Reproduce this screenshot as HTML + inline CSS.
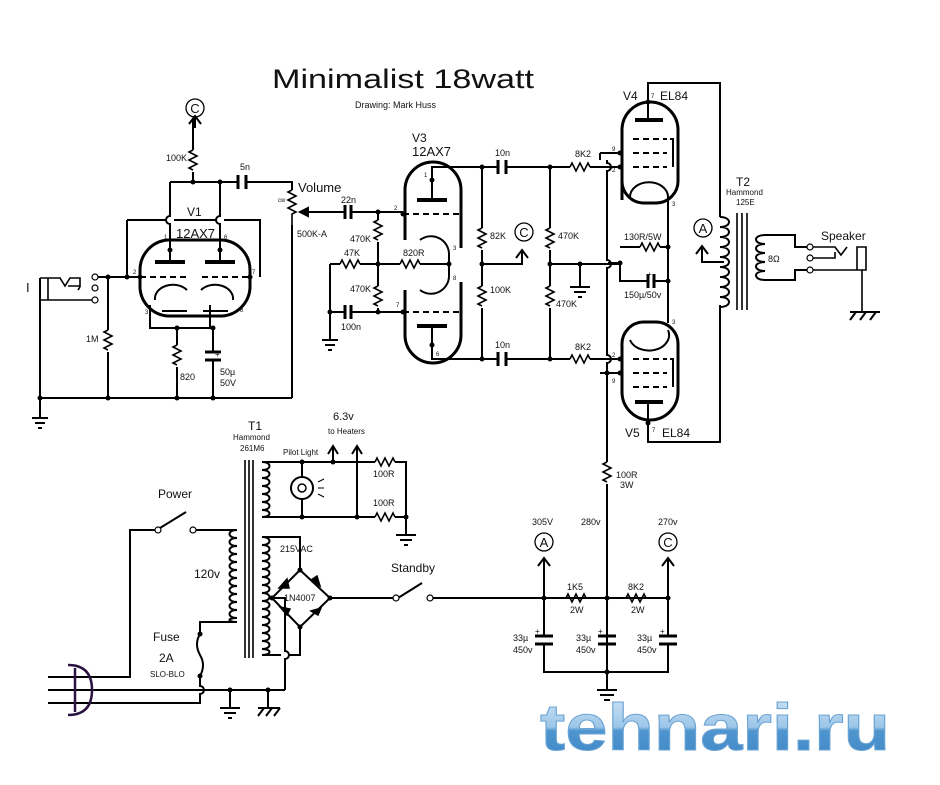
<!DOCTYPE html>
<html><head><meta charset="utf-8"><style>
html,body{margin:0;padding:0;background:#fff;}
svg{display:block;}
text{font-family:"Liberation Sans",sans-serif;fill:#111;}
</style></head><body>
<svg width="940" height="785" viewBox="0 0 940 785" xmlns="http://www.w3.org/2000/svg">
<defs>
<path id="rh" d="M0,0 l2,-4 l4,8 l4,-8 l4,8 l4,-8 l2,4" fill="none" stroke="#000" stroke-width="1.6"/>
<path id="rv" d="M0,0 l-4,2 l8,4 l-8,4 l8,4 l-8,4 l4,2" fill="none" stroke="#000" stroke-width="1.6"/>
<linearGradient id="wm" x1="0" y1="0" x2="0" y2="1"><stop offset="0" stop-color="#d7e9f7"/><stop offset="0.5" stop-color="#9cc6e8"/><stop offset="0.55" stop-color="#4f95cf"/><stop offset="1" stop-color="#3d86c6"/></linearGradient>
</defs>
<g fill="none" stroke="#000" stroke-width="2">
<path d="M193,118 V150 M193,172 V182 M170,182 H238 M246,182 H292 V190"/>
<path d="M238,175 V189 M246,175 V189" stroke-width="3"/>
<path d="M170,182 V216 a4,4 0 0 0 0,8 V243 M220,182 V216 a4,4 0 0 0 0,8 V243"/>
<path d="M127,220 H166 M174,220 H216 M224,220 H260 V277 M127,220 V277"/>
<path d="M168,240 H222 A30,30 0 0 1 250,270 V288 A30,30 0 0 1 222,316 H168 A30,30 0 0 1 140,288 V270 A30,30 0 0 1 168,240 Z" stroke-width="3"/>
<path d="M155,262 H185 M205,262 H235" stroke-width="4"/>
<path d="M140,277 H188 M202,277 H250" stroke-dasharray="6,4"/>
<path d="M155,300 a18,14 0 0 1 32,-10 M233,300 a18,14 0 0 0 -32,-10"/>
<path d="M162,311 H187 M203,311 H228"/>
<path d="M170,243 V262 M220,243 V262"/>
<path d="M95,277 H140 M150,305 V328 H210 V305 M177,328 V345 M177,367 V398 M213,328 V352 M213,360 V398"/>
<path d="M205,352 H221 M205,360 H221" stroke-width="3"/>
<path d="M108,277 V330 M108,352 V398 M38,398 H292 M292,225 V398"/>
<path d="M40,278 V398 M40,398 V418"/>
<path d="M32,418 H48 M35,423 H45 M38,428 H42"/>
<path d="M40,278 H48 V300 H40 M48,278 H60 l5,8 l5,-8 H80 V287 M80,287 l-2,3 M68,286 L80,286 M40,300 H95" stroke-width="1.6"/>
<path d="M300,212 H345 M351,212 H403 M378,212 V220 M378,242 V286 M378,308 V312 M330,264 H340 M360,264 H400 M420,264 H449 M330,264 V340 M330,312 H345 M351,312 H403"/>
<path d="M345,205 V219 M351,205 V219 M345,305 V319 M351,305 V319" stroke-width="3"/>
<path d="M322,340 H338 M325,345 H335 M328,350 H332"/>
<path d="M300,212 l8,-4 v8 z" fill="#000"/>
<path d="M405,208 V190 A28,28 0 0 1 461,190 V248 M405,240 V192 M405,290 V335 A28,28 0 0 0 461,335 V282" stroke-width="3"/>
<path d="M417,200 H447 M417,326 H447" stroke-width="4"/>
<path d="M403,214 H461 M403,312 H461" stroke-dasharray="6,4"/>
<path d="M420,240 a18,18 0 0 1 29,15 V275 a18,18 0 0 1 -29,15"/>
<path d="M432,200 V167 H498 M506,167 H570 M590,167 H603 M432,326 V359 H498 M506,359 H570 M590,359 H603"/>
<path d="M498,160 V174 M506,160 V174 M498,352 V366 M506,352 V366" stroke-width="3"/>
<path d="M482,167 V228 M482,250 V286 M482,308 V359 M482,264 H522 V252 M516,258 L522,250 L528,258"/>
<path d="M550,167 V228 M550,250 V286 M550,308 V359 M550,264 H603 M580,264 V287 M570,287 H590 M574,292 H586 M578,297 H582"/>
<path d="M607,160 V163 a4,4 0 0 1 0,8 V260 a4,4 0 0 1 0,8 V355 a4,4 0 0 1 0,8 V462 M607,484 V680"/>
<path d="M603,167 H620 M603,264 H620 M603,359 H620 M600,153 H620 M600,373 H620 M600,153 L600,160"/>
<path d="M622,200 V130 A28,28 0 0 1 678,130 V180 A22,22 0 0 1 656,203 H644 A22,22 0 0 1 622,180" stroke-width="3"/>
<path d="M635,120 H663" stroke-width="4"/>
<path d="M633,139 H667 M633,153 H667 M633,167 H667" stroke-dasharray="6,4"/>
<path d="M670,139 H673 V167"/>
<path d="M630,197 a18,14 0 0 1 38,0"/>
<path d="M648,102 V83 H720 V217 M648,102 V120"/>
<path d="M668,197 V323 M620,263 V281 H648 M654,281 H668 M620,247 H640 M660,247 H668 M620,263 H608"/>
<path d="M648,274 V288 M654,274 V288" stroke-width="3"/>
<path d="M622,345 V392 A28,28 0 0 0 678,392 V345 A22,22 0 0 0 656,322 H644 A22,22 0 0 0 622,345" stroke-width="3"/>
<path d="M635,402 H663" stroke-width="4"/>
<path d="M633,359 H667 M633,373 H667 M633,387 H667" stroke-dasharray="6,4"/>
<path d="M670,359 H673 V387"/>
<path d="M630,340 a18,14 0 0 0 38,-10"/>
<path d="M648,402 V442 H720 V305"/>
<path d="M720,217 c12,0 12,10 0,10 c12,0 12,10 0,10 c12,0 12,10 0,10 c12,0 12,10 0,10 c12,0 12,10 0,10 c12,0 12,10 0,10 c12,0 12,10 0,10 c12,0 12,10 0,10 c12,0 12,10 0,10"/>
<path d="M737,213 V310 M742,213 V310 M747,213 V310" stroke-width="1.6"/>
<path d="M765,235 c-12,0 -12,9 0,9 c-12,0 -12,9 0,9 c-12,0 -12,9 0,9 c-12,0 -12,9 0,9 c-12,0 -12,9 0,9 M765,235 H795 V247 H808 M765,280 H795 V270 H808"/>
<path d="M724,262 H702 V248 M696,254 L702,246 L708,254"/>
<path d="M812,247 H835 l6,8 l6,-8 M812,258 H835 V252 M812,270 H857 M857,247 H866 V270 H857 Z M862,270 V312" stroke-width="1.6"/>
<path d="M850,312 H880 M850,320 l6,-8 M860,320 l6,-8 M870,320 l6,-8"/>
<path d="M245,460 V658 M249,460 V658 M253,460 V658" stroke-width="1.6"/>
<path d="M262,462 c10,0 10,8 0,8 c10,0 10,8 0,8 c10,0 10,8 0,8 c10,0 10,8 0,8 c10,0 10,8 0,8 c10,0 10,8 0,8 c10,0 10,7 0,7"/>
<path d="M262,462 H375 M395,462 H406 V517 M262,517 H375 M395,517 H406 V535 M302,462 V477 M302,499 V517 M357,462 V517 M333,462 V448 M328,454 L333,446 L338,454 M357,462 V448 M352,454 L357,446 L362,454"/>
<path d="M396,535 H416 M400,540 H412 M404,545 H408"/>
<path d="M237,530 c-10,0 -10,8 0,8 c-10,0 -10,8 0,8 c-10,0 -10,8 0,8 c-10,0 -10,8 0,8 c-10,0 -10,8 0,8 c-10,0 -10,8 0,8 c-10,0 -10,8 0,8 c-10,0 -10,8 0,8 c-10,0 -10,8 0,8 c-10,0 -10,8 0,8 c-10,0 -10,8 0,8 c-10,0 -10,4 0,4"/>
<path d="M262,537 c10,0 10,8 0,8 c10,0 10,8 0,8 c10,0 10,8 0,8 c10,0 10,8 0,8 c10,0 10,8 0,8 c10,0 10,8 0,8 c10,0 10,8 0,8 c10,0 10,8 0,8 c10,0 10,8 0,8 c10,0 10,8 0,8 c10,0 10,8 0,8 c10,0 10,8 0,8 c10,0 10,8 0,8 c10,0 10,8 0,8 c10,0 10,6 0,6"/>
<path d="M237,530 H196 M158,530 H130 V677 H48 M160,528 L186,512 M237,622 H200 V634 q-6,10 0,21 q6,10 0,21 V686 a4,4 0 0 1 0,8 V703 H48 M48,690 H285 M230,690 V708 M268,690 V708"/>
<path d="M220,708 H240 M224,713 H236 M228,718 H232 M258,708 H280 M258,716 l6,-8 M266,716 l6,-8 M274,716 l6,-8"/>
<path d="M262,537 H300 V570 M300,570 L330,598 L300,627 L272,598 L300,570 M272,598 H285 V651 a4,4 0 0 1 0,8 V690 M262,655 H281 M289,655 H300 V627 M330,598 H394 M430,598 H668 M398,598 L422,583"/>
<path d="M68,665 q24,0 24,25 q0,25 -24,25 M75,668 V712" stroke="#2a1340" stroke-width="2.5"/>
<path d="M544,598 V560 M538,566 L544,558 L550,566 M668,598 V560 M662,566 L668,558 L674,566 M544,598 V636 M544,644 V672 H668 V644 M668,636 V598 M607,598 V636 M607,644 V690"/>
<path d="M535,636 H553 M535,644 H553 M598,636 H616 M598,644 H616 M659,636 H677 M659,644 H677" stroke-width="3"/>
<path d="M597,690 H617 M600,695 H614 M604,700 H610"/>
<path d="M544,598 H566 M588,598 H626 M648,598 H668"/>
</g>
<use href="#rv" x="193" y="150"/><use href="#rv" x="108" y="330"/><use href="#rv" x="177" y="345"/>
<use href="#rv" x="378" y="220"/><use href="#rv" x="378" y="286"/>
<use href="#rv" x="482" y="228"/><use href="#rv" x="482" y="286"/>
<use href="#rv" x="550" y="228"/><use href="#rv" x="550" y="286"/>
<use href="#rv" x="607" y="462"/>
<use href="#rh" x="340" y="264"/><use href="#rh" x="400" y="264"/>
<use href="#rh" x="570" y="167"/><use href="#rh" x="570" y="359"/>
<use href="#rh" x="640" y="247"/><use href="#rh" x="375" y="462"/><use href="#rh" x="375" y="517"/>
<use href="#rh" x="566" y="598"/><use href="#rh" x="626" y="598"/>
<path d="M292,190 l-4,2 l8,4 l-8,4 l8,4 l-8,4 l8,4 l-4,2 V225" fill="none" stroke="#000" stroke-width="1.6"/>
<g fill="#000" stroke="#000" stroke-width="1.5">
<path d="M279,588 l8,-9 l2,9 z M320,586 l-9,-6 l6,-4 z M280,607 l10,2 l-3,6 z M321,608 l-3,7 l-7,-4 z"/>
</g>
<circle cx="302" cy="488" r="11" fill="none" stroke="#000" stroke-width="2"/>
<circle cx="302" cy="488" r="4" fill="none" stroke="#000" stroke-width="1.5"/>
<path d="M318,482 l6,-3 M318,488 h6 M318,494 l6,3" stroke="#000" stroke-width="1"/>
<g fill="#000">
<circle cx="193" cy="182" r="2.5"/><circle cx="220" cy="182" r="2.5"/><circle cx="108" cy="277" r="2.5"/><circle cx="127" cy="277" r="2.5"/>
<circle cx="140" cy="277" r="2.5"/><circle cx="250" cy="277" r="2.5"/><circle cx="170" cy="250" r="2.5"/><circle cx="220" cy="250" r="2.5"/>
<circle cx="177" cy="328" r="2.5"/><circle cx="213" cy="328" r="2.5"/><circle cx="40" cy="398" r="2.5"/><circle cx="108" cy="398" r="2.5"/><circle cx="177" cy="398" r="2.5"/><circle cx="213" cy="398" r="2.5"/>
<circle cx="378" cy="212" r="2.5"/><circle cx="378" cy="264" r="2.5"/><circle cx="378" cy="312" r="2.5"/><circle cx="330" cy="312" r="2.5"/><circle cx="403" cy="214" r="2.5"/><circle cx="403" cy="312" r="2.5"/>
<circle cx="449" cy="264" r="2.5"/><circle cx="432" cy="180" r="2.5"/><circle cx="432" cy="345" r="2.5"/>
<circle cx="482" cy="167" r="2.5"/><circle cx="482" cy="264" r="2.5"/><circle cx="482" cy="359" r="2.5"/><circle cx="550" cy="167" r="2.5"/><circle cx="550" cy="264" r="2.5"/><circle cx="550" cy="359" r="2.5"/><circle cx="580" cy="264" r="2.5"/>
<circle cx="620" cy="153" r="2.5"/><circle cx="620" cy="167" r="2.5"/><circle cx="620" cy="359" r="2.5"/><circle cx="620" cy="373" r="2.5"/><circle cx="607" cy="373" r="2.5"/><circle cx="620" cy="263" r="2.5"/>
<circle cx="648" cy="102" r="2.5"/><circle cx="648" cy="423" r="2.5"/><circle cx="668" cy="247" r="2.5"/><circle cx="668" cy="281" r="2.5"/>
<circle cx="302" cy="462" r="2.5"/><circle cx="302" cy="517" r="2.5"/><circle cx="333" cy="462" r="2.5"/><circle cx="357" cy="517" r="2.5"/><circle cx="406" cy="517" r="2.5"/>
<circle cx="200" cy="634" r="2.5"/><circle cx="200" cy="676" r="2.5"/><circle cx="230" cy="690" r="2.5"/><circle cx="268" cy="690" r="2.5"/>
<circle cx="300" cy="570" r="2.5"/><circle cx="300" cy="627" r="2.5"/><circle cx="272" cy="598" r="2.5"/><circle cx="330" cy="598" r="2.5"/>
<circle cx="544" cy="598" r="2.5"/><circle cx="607" cy="598" r="2.5"/><circle cx="668" cy="598" r="2.5"/><circle cx="607" cy="672" r="2.5"/>
</g>
<g fill="#fff" stroke="#000" stroke-width="1.2">
<circle cx="95" cy="277" r="3"/><circle cx="95" cy="288" r="3"/><circle cx="95" cy="300" r="3"/>
<circle cx="158" cy="530" r="3"/><circle cx="193" cy="530" r="3"/><circle cx="396" cy="598" r="3"/><circle cx="430" cy="598" r="3"/>
<circle cx="810" cy="247" r="3"/><circle cx="810" cy="258" r="3"/><circle cx="810" cy="270" r="3"/>
</g>
<g fill="none" stroke="#000" stroke-width="1.3">
<circle cx="195" cy="108" r="9"/><circle cx="524" cy="232" r="9"/><circle cx="703" cy="228" r="9"/><circle cx="544" cy="542" r="9"/><circle cx="668" cy="542" r="9"/>
</g>
<path d="M195,118 V128 M189,124 L195,116 L201,124" fill="none" stroke="#000" stroke-width="2"/>
<g font-size="13" text-anchor="middle">
<text x="195" y="113">C</text><text x="524" y="237">C</text><text x="703" y="233">A</text><text x="544" y="547">A</text><text x="668" y="547">C</text>
</g>
<text x="272" y="88" font-size="27" textLength="262" lengthAdjust="spacingAndGlyphs">Minimalist 18watt</text>
<text x="355" y="108" font-size="9">Drawing: Mark Huss</text>
<g font-size="9">
<text x="166" y="161">100K</text><text x="240" y="170">5n</text>
<text x="187" y="216" font-size="12">V1</text><text x="176" y="238" font-size="13">12AX7</text>
<text x="164" y="239" font-size="6">1</text><text x="224" y="239" font-size="6">6</text><text x="133" y="274" font-size="6">2</text><text x="252" y="274" font-size="6">7</text><text x="145" y="314" font-size="6">3</text><text x="240" y="312" font-size="6">8</text>
<text x="86" y="342">1M</text><text x="180" y="380">820</text><text x="220" y="375">50µ</text><text x="220" y="386">50V</text>
<text x="298" y="192" font-size="13">Volume</text><text x="278" y="202" font-size="6">cw</text><text x="297" y="237">500K-A</text>
<text x="341" y="203">22n</text><text x="350" y="242">470K</text><text x="344" y="256">47K</text><text x="350" y="292">470K</text><text x="341" y="330">100n</text><text x="403" y="256">820R</text>
<text x="412" y="142" font-size="12">V3</text><text x="412" y="156" font-size="13">12AX7</text>
<text x="424" y="177" font-size="6">1</text><text x="394" y="210" font-size="6">2</text><text x="453" y="250" font-size="6">3</text><text x="453" y="280" font-size="6">8</text><text x="396" y="307" font-size="6">7</text><text x="436" y="356" font-size="6">6</text>
<text x="495" y="156">10n</text><text x="495" y="348">10n</text><text x="490" y="239">82K</text><text x="490" y="293">100K</text>
<text x="558" y="239">470K</text><text x="556" y="307">470K</text><text x="575" y="157">8K2</text><text x="575" y="350">8K2</text>
<text x="623" y="100" font-size="12">V4</text><text x="660" y="100" font-size="12">EL84</text><text x="651" y="98" font-size="6">7</text>
<text x="612" y="151" font-size="6">9</text><text x="612" y="172" font-size="6">2</text><text x="672" y="206" font-size="6">3</text>
<text x="624" y="240">130R/5W</text><text x="624" y="298">150µ/50v</text><text x="647" y="277" font-size="8">+</text>
<text x="672" y="324" font-size="6">3</text><text x="612" y="357" font-size="6">2</text><text x="612" y="383" font-size="6">9</text>
<text x="625" y="437" font-size="12">V5</text><text x="662" y="437" font-size="12">EL84</text><text x="652" y="432" font-size="6">7</text>
<text x="736" y="186" font-size="12">T2</text><text x="726" y="195" font-size="8">Hammond</text><text x="736" y="205" font-size="8">125E</text>
<text x="768" y="262">8Ω</text><text x="821" y="240" font-size="12">Speaker</text>
<text x="248" y="430" font-size="12">T1</text><text x="233" y="440" font-size="8">Hammond</text><text x="240" y="451" font-size="8">261M6</text>
<text x="333" y="420" font-size="11">6.3v</text><text x="328" y="434" font-size="8">to Heaters</text><text x="283" y="455" font-size="8">Pilot Light</text>
<text x="373" y="477">100R</text><text x="373" y="506">100R</text>
<text x="158" y="498" font-size="12">Power</text><text x="194" y="578" font-size="12">120v</text>
<text x="280" y="552">215VAC</text><text x="284" y="601">1N4007</text><text x="391" y="572" font-size="12">Standby</text>
<text x="153" y="641" font-size="12">Fuse</text><text x="159" y="662" font-size="12">2A</text><text x="150" y="677" font-size="8">SLO-BLO</text>
<text x="616" y="478">100R</text><text x="620" y="488">3W</text>
<text x="532" y="525">305V</text><text x="581" y="525">280v</text><text x="658" y="525">270v</text>
<text x="567" y="590">1K5</text><text x="570" y="613">2W</text><text x="628" y="590">8K2</text><text x="631" y="613">2W</text>
<text x="513" y="641">33µ</text><text x="513" y="653">450v</text><text x="576" y="641">33µ</text><text x="576" y="653">450v</text><text x="637" y="641">33µ</text><text x="637" y="653">450v</text>
<text x="535" y="634" font-size="8">+</text><text x="598" y="634" font-size="8">+</text><text x="660" y="634" font-size="8">+</text><text x="215" y="357" font-size="8">+</text>
</g>
<text x="26" y="292" font-size="13">I</text>
<text x="540" y="750" font-size="66" font-weight="bold" textLength="350" lengthAdjust="spacingAndGlyphs" style="fill:url(#wm);stroke:#6aa3d3;stroke-width:1">tehnari.ru</text>
</svg>
</body></html>
